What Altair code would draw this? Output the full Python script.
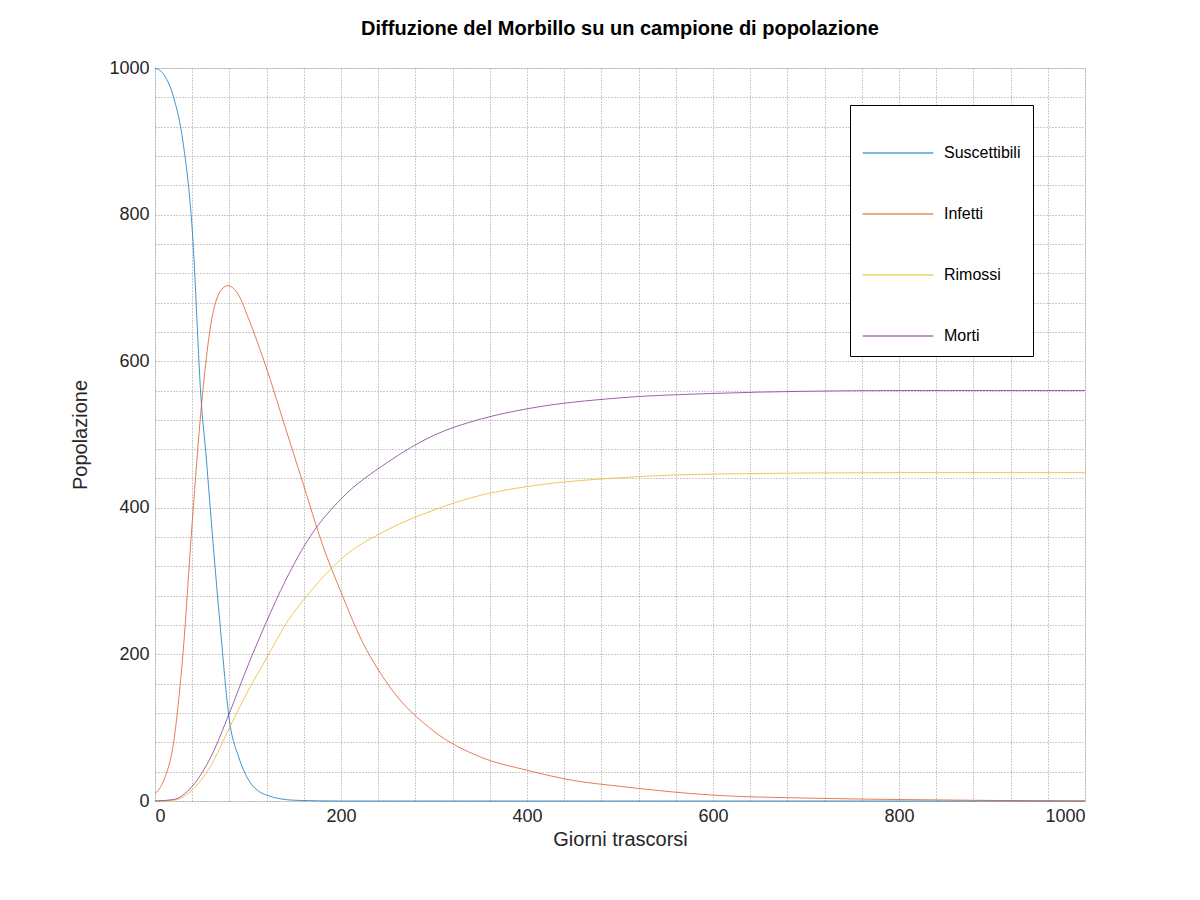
import altair as alt
import pandas as pd

s_days = [0,10,20,30,40,50,55,60,70,80,90,100,120,150,200,400,1000]
s_vals = [1000,990,960,900,780,540,470,390,240,110,60,30,8,1,0,0,0]
i_days = [0,10,20,30,40,50,60,70,78,90,100,120,140,160,180,200,220,250,300,350,400,450,500,600,700,800,1000]
i_vals = [10,30,80,200,380,540,650,695,703,690,660,590,510,430,350,285,225,160,95,60,42,28,20,8,4,2,0]
r_days = [0,20,40,60,80,100,120,140,170,200,250,300,350,400,500,600,800,1000]
r_vals = [0,1,15,48,100,150,195,240,290,330,370,397,417,429,441,446,448,448]
m_days = [0,20,40,60,80,100,120,140,168,200,250,300,350,400,500,600,700,800,1000]
m_vals = [0,2,20,60,120,185,245,300,363,412,462,499,521,535,550,556,559,560,560]

names = ["Suscettibili", "Infetti", "Rimossi", "Morti"]
colors = ["#0072BD", "#D95319", "#EDB120", "#7E2F8E"]

rows = []
for n, d, v in zip(names, [s_days, i_days, r_days, m_days], [s_vals, i_vals, r_vals, m_vals]):
    rows += [{"g": n, "day": a, "pop": b} for a, b in zip(d, v)]
df = pd.DataFrame(rows)

grid = list(range(0, 1001, 40))
lab = "datum.value % 200 == 0 ? datum.value : ''"
font = "Liberation Sans"

def ax(title, tp):
    return alt.Axis(title=title, values=grid, labelExpr=lab, ticks=False,
                    gridDash=[1, 2], gridColor="#999", labelFontSize=18, titleFontSize=20,
                    titleFontWeight="normal", labelColor="#262626", titleColor="#262626",
                    labelPadding=6, titlePadding=tp, domain=False)

chart = alt.Chart(df).mark_line(strokeWidth=1, opacity=0.75, interpolate="monotone").encode(
    x=alt.X("day:Q", scale=alt.Scale(domain=[0, 1000], nice=False), axis=ax("Giorni trascorsi", 4)),
    y=alt.Y("pop:Q", scale=alt.Scale(domain=[0, 1000], nice=False), axis=ax("Popolazione", 18)),
    color=alt.Color("g:N", sort=names, scale=alt.Scale(domain=names, range=colors),
                    legend=alt.Legend(title=None, orient="none", legendX=695, legendY=37,
                                      symbolType="stroke", symbolSize=5000, symbolStrokeWidth=1,
                                      labelFontSize=16, rowPadding=17, padding=12,
                                      labelOffset=10, columnPadding=10,
                                      strokeColor="black", fillColor="white",
                                      labelColor="black", symbolOpacity=1)),
).properties(
    width=930, height=733,
    title=alt.Title("Diffuzione del Morbillo su un campione di popolazione", fontSize=20,
                    font=font, fontWeight="bold", offset=20),
    padding={"left": 147, "top": 60, "right": 10, "bottom": 80},
    autosize="none",
).configure_view(stroke="black", strokeWidth=1).configure(font=font)

chart.save("out.html", embed_options={"renderer": "svg", "actions": False})
